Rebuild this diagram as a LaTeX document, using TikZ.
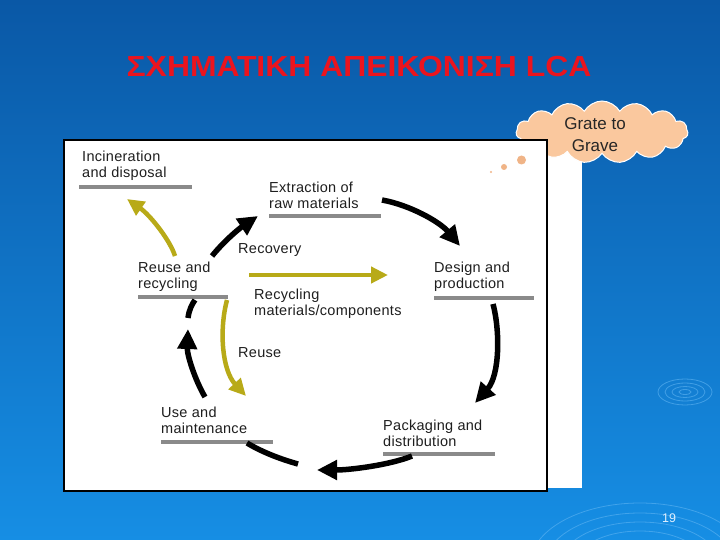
\documentclass[tikz,border=0pt]{standalone}
\usepackage{fontspec}
\setmainfont{Liberation Sans}
\newfontfamily\lblfont[LetterSpace=2]{Liberation Sans}
\usetikzlibrary{arrows.meta,shapes.symbols}
\definecolor{bgtop}{RGB}{10,88,166}
\definecolor{bgbot}{RGB}{22,142,228}
\definecolor{olivec}{RGB}{184,170,24}
\definecolor{barg}{RGB}{138,138,138}
\definecolor{txtg}{RGB}{30,30,30}
\definecolor{peach}{RGB}{250,200,158}
\definecolor{bubble}{RGB}{240,180,135}
\definecolor{ripplec}{RGB}{95,180,242}
\definecolor{titlered}{RGB}{235,20,30}
\definecolor{pagenum}{RGB}{225,240,255}
\begin{document}
\begin{tikzpicture}[x=1pt,y=-1pt,
  lbl/.style={anchor=base west, inner sep=0, text=txtg, font=\lblfont\fontsize{14.5}{16}\selectfont},
  bar/.style={draw=barg, line width=4pt},
  blk/.style={draw=black, line width=5.5pt, -{Triangle[length=20pt,width=19pt]}},
  blkline/.style={draw=black, line width=5.5pt},
  olv/.style={draw=olivec, line width=4.5pt, -{Triangle[length=17pt,width=16pt]}},
  ripple/.style={draw=ripplec, line width=0.8pt, opacity=0.6}]
\useasboundingbox (0,0) rectangle (720,540);
% background
\shade[top color=bgtop, bottom color=bgbot] (0,0) rectangle (720,540);
% ripples
\foreach \a/\b in {27/13,20/9,13/5.5,6/2.5}
  \draw[ripple] (685,392) ellipse ({\a} and {\b});
\foreach \a/\b in {110/62,95/52,80/43,65/34}
  \draw[ripple] (640,565) ellipse ({\a} and {\b});
% white strip behind the picture
\fill[white] (546,140) rectangle (582,488);
% cloud
\node[cloud, cloud puffs=15, cloud puff arc=120, aspect=2.9, fill=peach, draw=white, line width=1pt,
      minimum width=172pt, minimum height=62pt, inner sep=0] (cloud) at (602,132) {};
\node[anchor=base, inner sep=0, text=black!85, font=\fontsize{17}{21.5}\selectfont] (cloudtext) at (595,130)
  {\vtop{\hbox to 0pt{\hss Grate to\hss}\hbox to 0pt{\hss Grave\hss}}};
% framed picture
\draw[black, line width=2.5pt, fill=white] (64,140) rectangle (547,491);
% bubbles
\fill[bubble] (521.5,160) circle (4.5);
\fill[bubble] (504,167) circle (3);
\fill[bubble] (491,172) circle (1.1);
% labels
\node[lbl] (incin) at (82,162) {\vtop{\hbox{Incineration}\hbox{and disposal}}};
\node[lbl] (extr) at (269,193) {\vtop{\hbox{Extraction of}\hbox{raw materials}}};
\node[lbl] (design) at (434,272) {\vtop{\hbox{Design and}\hbox{production}}};
\node[lbl] (pack) at (383,430) {\vtop{\hbox{Packaging and}\hbox{distribution}}};
\node[lbl] (use) at (161,417) {\vtop{\hbox{Use and}\hbox{maintenance}}};
\node[lbl] (reuse) at (138,272) {\vtop{\hbox{Reuse and}\hbox{recycling}}};
\node[lbl] (recov) at (238,254) {Recovery};
\node[lbl] (recyc) at (254,299) {\vtop{\hbox{Recycling}\hbox{materials/components}}};
\node[lbl] (reuseonly) at (238,357) {Reuse};
% bars
\draw[bar] (79,187) -- (192,187);
\draw[bar] (269,216) -- (381,216);
\draw[bar] (434,298) -- (534,298);
\draw[bar] (383,454) -- (495,454);
\draw[bar] (161,442) -- (273,442);
\draw[bar] (138,297) -- (228,297);
% connector end points
\coordinate (e1) at (382,200);  \coordinate (d1) at (460,246);
\coordinate (d2) at (493,304);  \coordinate (p2) at (475,403);
\coordinate (p3) at (412,456);  \coordinate (u3) at (317,470);
\coordinate (t4a) at (298,464); \coordinate (t4b) at (247,443);
\coordinate (u5) at (205,397);  \coordinate (r5) at (188,329);
\coordinate (t6a) at (188,318); \coordinate (t6b) at (195,300);
\coordinate (r7) at (212,256);  \coordinate (e7) at (258,216);
\coordinate (r8) at (175,256);  \coordinate (i8) at (127,199);
\coordinate (r9) at (249,275);  \coordinate (d9) at (388,275);
\coordinate (r10) at (227,300); \coordinate (u10) at (246,396);
% black cycle arrows
\draw[blk] (e1) .. controls (410,205) and (440,222) .. (d1);
\draw[blk] (d2) .. controls (500,330) and (500,375) .. (p2);
\draw[blk] (p3) .. controls (390,465) and (350,470) .. (u3);
\draw[blkline] (t4a) .. controls (280,459) and (262,452) .. (t4b);
\draw[blk] (u5) .. controls (195,380) and (187,355) .. (r5);
\draw[blkline] (t6a) .. controls (189,310) and (192,304) .. (t6b);
\draw[blk] (r7) .. controls (225,240) and (240,228) .. (e7);
% olive arrows
\draw[olv] (r8) .. controls (170,240) and (150,215) .. (i8);
\draw[olv] (r9) -- (d9);
\draw[olv] (r10) .. controls (219,330) and (222,370) .. (u10);
% title
\node[anchor=base, inner sep=0, text=titlered, font=\bfseries\fontsize{29}{33}\selectfont] (title) at (359,77)
  {\scalebox{1.1}[1]{ΣΧΗΜΑΤΙΚΗ ΑΠΕΙΚΟΝΙΣΗ LCA}};
% page number
\node[anchor=base, inner sep=0, text=pagenum, font=\fontsize{12.5}{14}\selectfont] (page) at (669,522) {19};
\end{tikzpicture}
\end{document}
